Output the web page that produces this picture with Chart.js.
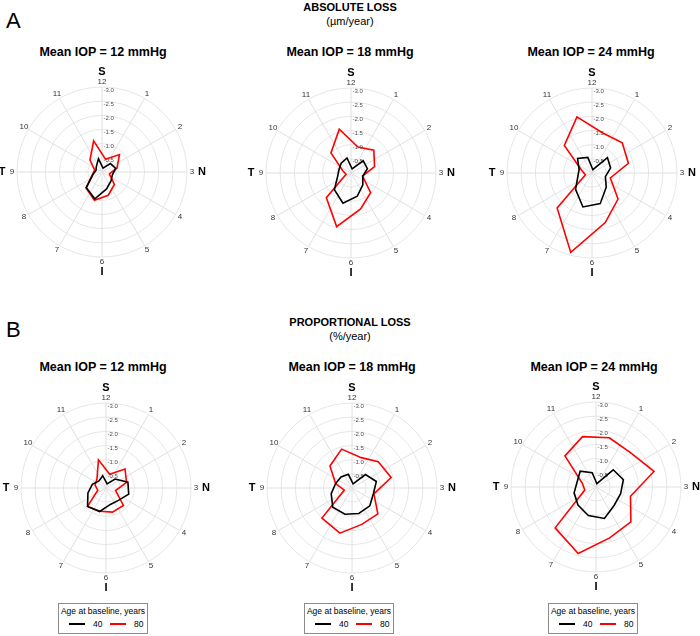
<!DOCTYPE html>
<html>
<head>
<meta charset="utf-8">
<script src="https://cdn.jsdelivr.net/npm/chart.js@4.4.1/dist/chart.umd.min.js"></script>
<style>
  html, body { margin: 0; padding: 0; background: #fff; }
  body { width: 700px; height: 636px; position: relative; overflow: hidden;
         font-family: "Liberation Sans", Arial, Helvetica, sans-serif; color: #000; }
  .abs { position: absolute; white-space: nowrap; }
  .ctr { transform: translateX(-50%); text-align: center; }
  .panelLetter { font-size: 22px; line-height: 22px; }
  .head { font-size: 11px; font-weight: bold; line-height: 13px; }
  .unit { font-size: 11px; line-height: 13px; }
  .sub { font-size: 12.5px; font-weight: bold; line-height: 14px; }
  canvas { position: absolute; }
  .legend { position: absolute; border: 1px solid #8c8c8c; background: #fff; box-sizing: border-box; }
  .legend .lt { position: absolute; left: 0; right: 0; top: 2px; text-align: center; font-size: 8.5px; line-height: 10px; }
  .legend .row { position: absolute; left: 0; right: 0; top: 15px; height: 10px; font-size: 8.5px; line-height: 10px; }
  .legend .ln { position: absolute; top: 4px; height: 2px; width: 16px; }
  .legend .lb { position: absolute; top: 0; }
</style>
</head>
<body>
<div id="root"></div>
<script>
// ---------------- data ----------------
const hourLabels = ['12','1','2','3','4','5','6','7','8','9','10','11'];
const quadrantLetters = ['S','','','N','','','I','','','T','',''];
const ringTicks = [-3.0, -2.5, -2.0, -1.5, -1.0, -0.5];
const ageGroups = ['40', '80'];
const iopTitles = ['Mean IOP = 12 mmHg', 'Mean IOP = 18 mmHg', 'Mean IOP = 24 mmHg'];
const sectionTitles = ['ABSOLUTE LOSS', 'PROPORTIONAL LOSS'];
const sectionUnits = ['(\u00b5m/year)', '(%/year)'];
const sectionLetters = ['A', 'B'];
const legendTitle = 'Age at baseline, years';

// values per clock-hour sector, sector centres 12-1, 1-2, ..., 11-12
const absIop12Age40 = [-0.14, -0.42, -0.50, -0.38, -0.45, -0.62, -0.98, -0.78, -0.33, -0.22, -0.28, -0.48];
const absIop12Age80 = [-0.47, -0.87, -0.55, -0.27, -0.62, -0.85, -1.03, -0.80, -0.35, -0.27, -0.60, -1.14];
const absIop18Age40 = [-0.15, -0.61, -0.60, -0.43, -0.59, -0.85, -1.10, -0.83, -0.49, -0.44, -0.49, -0.55];
const absIop18Age80 = [-0.95, -1.14, -0.86, -0.42, -0.98, -1.31, -1.96, -1.23, -0.18, -0.30, -1.00, -1.60];
const absIop24Age40 = [-0.12, -0.77, -0.68, -0.49, -0.71, -1.12, -1.24, -0.82, -0.52, -0.47, -0.72, -0.57];
const absIop24Age80 = [-1.46, -1.51, -1.33, -0.67, -1.30, -1.81, -2.90, -1.74, -0.24, -0.38, -1.38, -2.05];

const propIop12Age40 = [-0.15, -0.45, -0.80, -0.83, -0.62, -0.60, -0.86, -0.92, -0.66, -0.50, -0.35, -0.45];
const propIop12Age80 = [-0.50, -0.95, -0.75, -0.35, -0.87, -0.88, -0.85, -0.92, -0.30, -0.40, -0.45, -1.03];
const propIop18Age40 = [-0.15, -0.67, -0.89, -0.78, -0.89, -0.93, -0.96, -0.96, -0.76, -0.60, -0.55, -0.50];
const propIop18Age80 = [-1.12, -1.31, -1.43, -0.80, -1.29, -1.33, -1.65, -1.50, -0.28, -0.60, -1.10, -1.42];
const propIop24Age40 = [-0.12, -0.86, -1.00, -0.90, -0.91, -1.15, -1.04, -0.90, -0.80, -0.69, -0.79, -0.52];
const propIop24Age80 = [-1.80, -1.72, -2.12, -1.26, -1.74, -1.86, -2.43, -2.04, -0.41, -0.50, -1.55, -1.84];

// ---------------- layout ----------------
const seriesColors = ['#000000', '#ff0000'];
const panels = [
  { cx: 102, cy: 172, a40: absIop12Age40, a80: absIop12Age80 },
  { cx: 351, cy: 173, a40: absIop18Age40, a80: absIop18Age80 },
  { cx: 592, cy: 173, a40: absIop24Age40, a80: absIop24Age80 },
  { cx: 106, cy: 488, a40: propIop12Age40, a80: propIop12Age80 },
  { cx: 352, cy: 488, a40: propIop18Age40, a80: propIop18Age80 },
  { cx: 596, cy: 487, a40: propIop24Age40, a80: propIop24Age80 }
];
const subTitlePos = [[103, 45], [350, 45], [591, 45], [103, 360], [352, 360], [594, 360]];
const R = 85, PAD = 30, SIZE = 2 * (R + PAD);

const root = document.getElementById('root');
function addText(cls, txt, x, y, center) {
  const d = document.createElement('div');
  d.className = 'abs ' + cls + (center ? ' ctr' : '');
  d.textContent = txt;
  d.style.left = x + 'px'; d.style.top = y + 'px';
  root.appendChild(d);
}
addText('panelLetter', sectionLetters[0], 6, 10, false);
addText('head', sectionTitles[0], 350, 1, true);
addText('unit', sectionUnits[0], 350, 15, true);
addText('panelLetter', sectionLetters[1], 6, 319, false);
addText('head', sectionTitles[1], 350, 316, true);
addText('unit', sectionUnits[1], 350, 330, true);
subTitlePos.forEach((p, i) => addText('sub', iopTitles[i % 3], p[0], p[1], true));

// 24 angular slots: even = clock hour spokes, odd = sector centres holding data
const slotLabels = [];
for (let i = 0; i < 24; i++) slotLabels.push(i % 2 === 0 ? hourLabels[i / 2] : '');
function toSlots(vals) {
  const out = [];
  for (let i = 0; i < 24; i++) out.push(i % 2 === 1 ? vals[(i - 1) / 2] : null);
  return out;
}

const decor = {
  id: 'decor',
  beforeDatasetsDraw(chart) {
    const s = chart.scales.r, ctx = chart.ctx;
    ctx.save();
    ctx.font = '6px "Liberation Sans", Arial, sans-serif';
    ctx.fillStyle = '#4d4d4d';
    ctx.textAlign = 'left';
    ctx.textBaseline = 'middle';
    ringTicks.forEach(v => {
      const d = s.getDistanceFromCenterForValue(v);
      ctx.fillText(v.toFixed(1), s.xCenter + 1.5, s.yCenter - d + 3);
    });
    ctx.restore();
  },
  afterDraw(chart) {
    const s = chart.scales.r, ctx = chart.ctx;
    ctx.save();
    ctx.textAlign = 'center';
    ctx.textBaseline = 'middle';
    ctx.font = '8px "Liberation Sans", Arial, sans-serif';
    ctx.fillStyle = '#333';
    hourLabels.forEach((h, k) => {
      const p = s.getPointPosition(2 * k, s.drawingArea + 5);
      ctx.fillText(h, p.x, p.y);
    });
    ctx.font = 'bold 11px "Liberation Sans", Arial, sans-serif';
    ctx.fillStyle = '#000';
    quadrantLetters.forEach((q, k) => {
      if (!q) return;
      const p = s.getPointPosition(2 * k, s.drawingArea + 15);
      ctx.fillText(q, p.x, p.y);
    });
    ctx.restore();
  }
};

panels.forEach((p, idx) => {
  const c = document.createElement('canvas');
  c.width = SIZE; c.height = SIZE;
  c.style.left = (p.cx - SIZE / 2) + 'px';
  c.style.top = (p.cy - SIZE / 2) + 'px';
  c.style.width = SIZE + 'px'; c.style.height = SIZE + 'px';
  root.appendChild(c);
  new Chart(c, {
    type: 'radar',
    data: {
      labels: slotLabels,
      datasets: [
        { label: ageGroups[0], data: toSlots(p.a40), borderColor: seriesColors[0], borderWidth: 1.6, pointRadius: 0, fill: false, spanGaps: true, tension: 0 },
        { label: ageGroups[1], data: toSlots(p.a80), borderColor: seriesColors[1], borderWidth: 1.6, pointRadius: 0, fill: false, spanGaps: true, tension: 0 }
      ]
    },
    options: {
      responsive: false,
      animation: false,
      devicePixelRatio: 1,
      layout: { padding: PAD },
      plugins: { legend: { display: false }, tooltip: { enabled: false }, title: { display: false } },
      elements: { line: { borderJoinStyle: 'miter' } },
      scales: {
        r: {
          min: -3, max: 0, reverse: true,
          ticks: { display: false, stepSize: 0.5 },
          grid: { circular: true, color: '#e6e6e6', lineWidth: 1 },
          angleLines: { display: true, color: '#e0e0e0', lineWidth: (ctx) => (ctx.index % 2 === 0 ? 1 : 0) },
          pointLabels: { display: false }
        }
      }
    },
    plugins: [decor]
  });
});

// legends
const legendCenters = [103, 349, 593];
legendCenters.forEach(cx => {
  const L = document.createElement('div');
  L.className = 'legend';
  L.style.left = (cx - 45) + 'px'; L.style.top = '603px';
  L.style.width = '90px'; L.style.height = '31px';
  const t = document.createElement('div'); t.className = 'lt'; t.textContent = legendTitle; L.appendChild(t);
  const row = document.createElement('div'); row.className = 'row';
  const items = [[10, 34], [51, 75]];
  ageGroups.forEach((g, i) => {
    const ln = document.createElement('span'); ln.className = 'ln';
    ln.style.left = items[i][0] + 'px'; ln.style.background = seriesColors[i];
    row.appendChild(ln);
    const lb = document.createElement('span'); lb.className = 'lb';
    lb.style.left = items[i][1] + 'px'; lb.textContent = g;
    row.appendChild(lb);
  });
  L.appendChild(row);
  root.appendChild(L);
});
</script>
</body>
</html>
